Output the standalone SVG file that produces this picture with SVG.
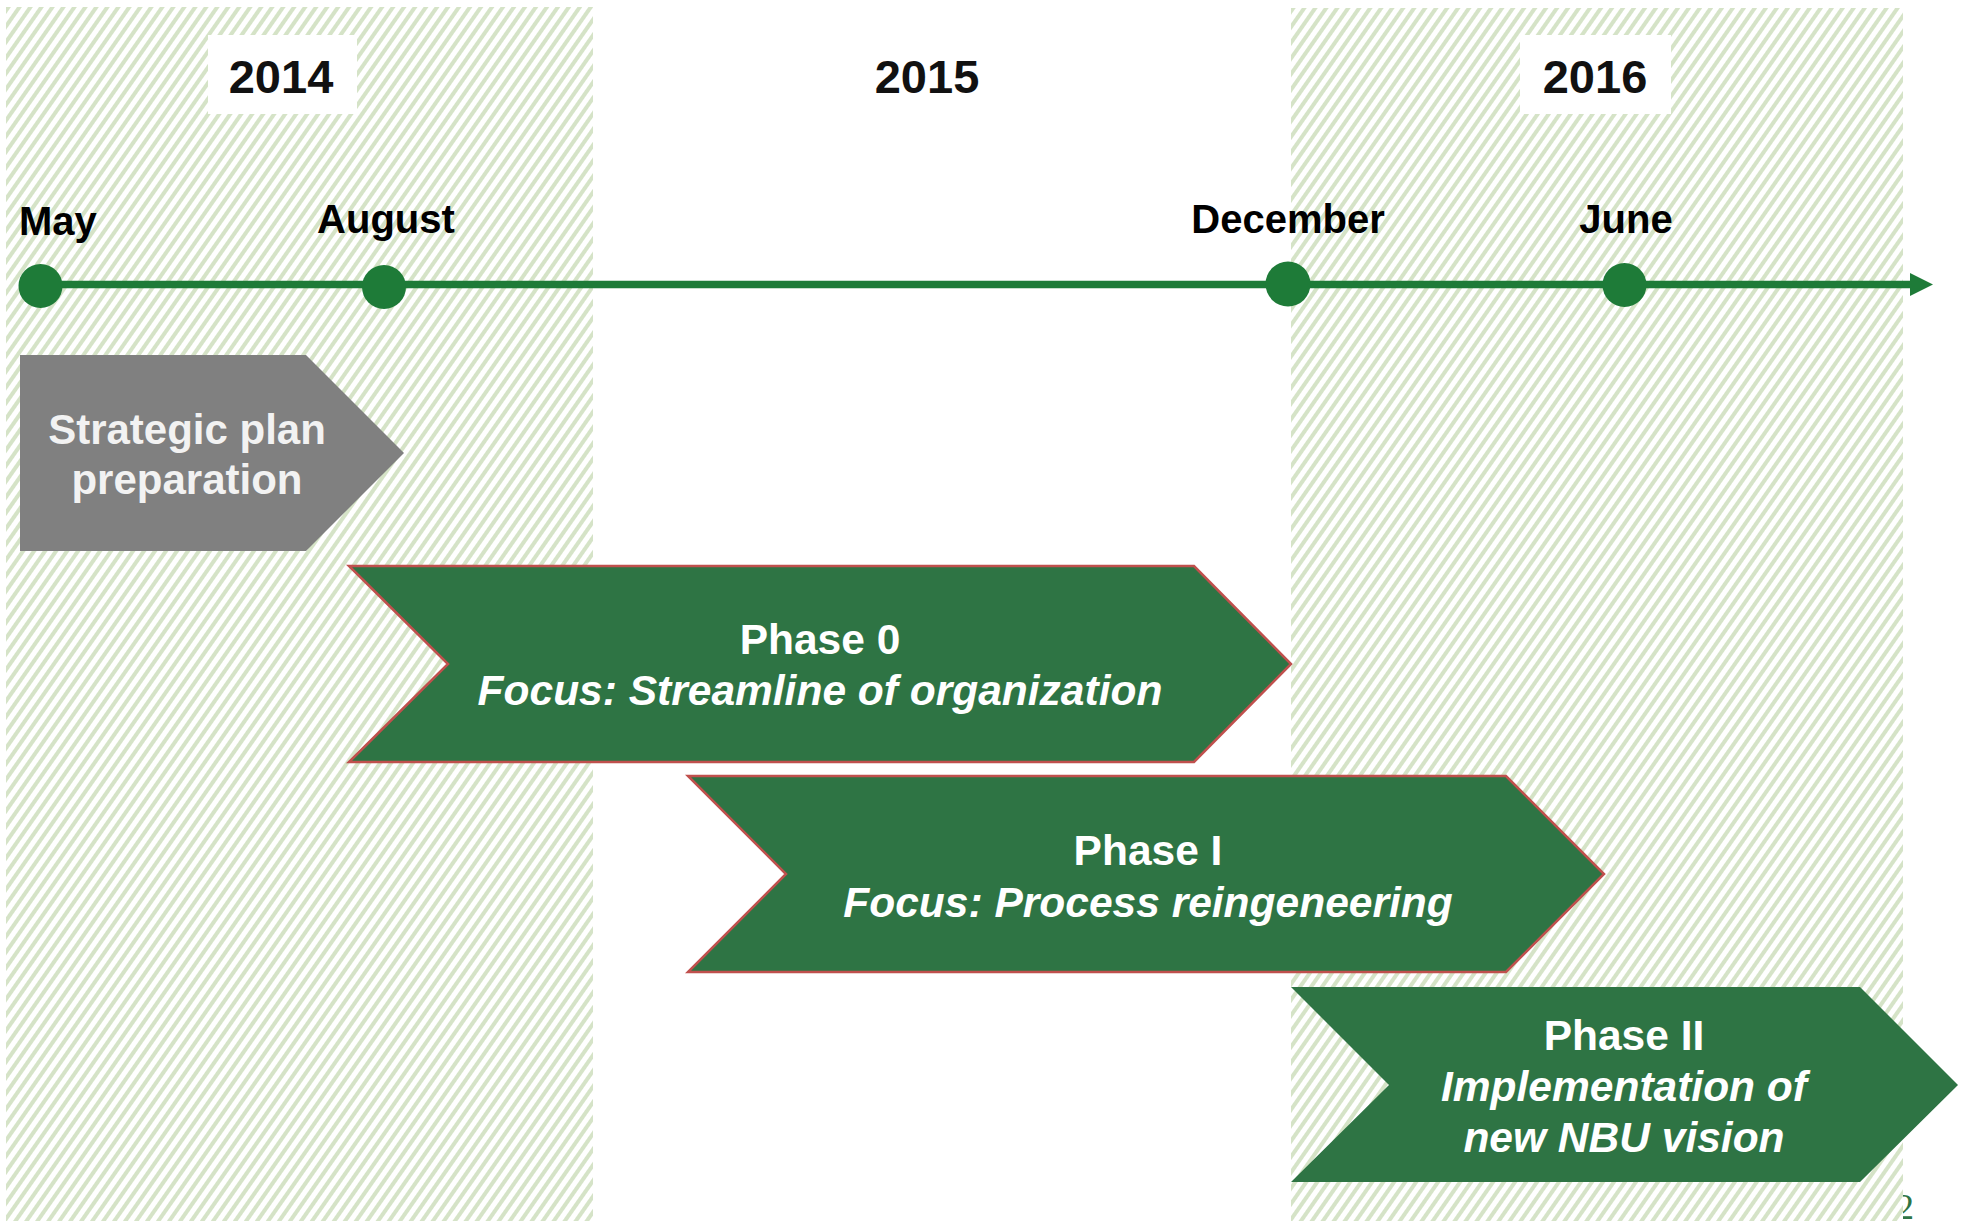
<svg xmlns="http://www.w3.org/2000/svg" width="1967" height="1221" viewBox="0 0 1967 1221">
  <defs>
    <pattern id="hatch" width="9" height="9" patternUnits="userSpaceOnUse" patternTransform="rotate(35)">
      <rect x="0" y="0" width="4" height="9" fill="#d5e3c7"/>
    </pattern>
    <marker id="arrow" markerUnits="userSpaceOnUse" markerWidth="24" markerHeight="24" refX="0" refY="11.5" orient="auto">
      <path d="M0,0 L23,11.5 L0,23 Z" fill="#1e7b38"/>
    </marker>
    <style>
      .band { fill: url(#hatch); }
      .bandbg { fill: #ffffff; }
      .yearbox { fill: #ffffff; }
      .year { font-family: "Liberation Sans", Arial, sans-serif; font-weight: bold; font-size: 47px; fill: #111111; text-anchor: middle; }
      .month { font-family: "Liberation Sans", Arial, sans-serif; font-weight: bold; font-size: 40px; fill: #000000; }
      .dot { fill: #1e7b38; }
      .timeline { stroke: #1e7b38; stroke-width: 7.5; fill: none; }
      .chev { fill: #2e7444; stroke: #c0504d; stroke-width: 2.5; }
      .chev2 { fill: #2e7444; }
      .gray { fill: #808080; }
      .lbl { font-family: "Liberation Sans", Arial, sans-serif; font-weight: bold; font-size: 42.5px; fill: #ffffff; text-anchor: middle; }
      .lblg { font-family: "Liberation Sans", Arial, sans-serif; font-weight: bold; font-size: 42px; fill: #f2f2f2; text-anchor: middle; }
      .it { font-style: italic; }
      .pg { font-family: "Liberation Serif", "Times New Roman", serif; font-size: 36px; fill: #2e7444; }
    </style>
  </defs>

  <rect x="0" y="0" width="1967" height="1221" fill="#ffffff"/>

  <text class="pg" x="1896" y="1219">2</text>

  <g id="bands">
    <rect class="bandbg" x="6" y="7" width="587" height="1214"/>
    <rect class="band" x="6" y="7" width="587" height="1214"/>
    <rect class="bandbg" x="1291" y="8" width="612" height="1213"/>
    <rect class="band" x="1291" y="8" width="612" height="1213"/>
  </g>

  <g id="years">
    <rect class="yearbox" x="208" y="35" width="149" height="79"/>
    <text class="year" x="281" y="93">2014</text>
    <text class="year" x="927" y="93">2015</text>
    <rect class="yearbox" x="1520" y="35" width="151" height="79"/>
    <text class="year" x="1595" y="93">2016</text>
  </g>

  <g id="months">
    <text class="month" x="19" y="235">May</text>
    <text class="month" x="386" y="233" text-anchor="middle">August</text>
    <text class="month" x="1288" y="233" text-anchor="middle">December</text>
    <text class="month" x="1626" y="233" text-anchor="middle">June</text>
  </g>

  <g id="connectors">
    <line class="timeline" x1="40" y1="284.5" x2="1910" y2="284.5" marker-end="url(#arrow)"/>
  </g>

  <g id="milestone-may"><circle class="dot" cx="40.5" cy="286" r="22"/></g>
  <g id="milestone-august"><circle class="dot" cx="384" cy="287" r="22"/></g>
  <g id="milestone-december"><circle class="dot" cx="1288" cy="284" r="22.5"/></g>
  <g id="milestone-june"><circle class="dot" cx="1624.5" cy="285" r="22"/></g>

  <g id="strategic-plan">
    <polygon class="gray" points="20,355 306,355 404,453 306,551 20,551"/>
    <text class="lblg" x="187" y="444">Strategic plan</text>
    <text class="lblg" x="187" y="494">preparation</text>
  </g>

  <g id="phase-0">
    <polygon class="chev" points="349,566 1194,566 1291,664 1194,762 349,762 448,664"/>
    <text class="lbl" x="820" y="654">Phase 0</text>
    <text class="lbl it" x="820" y="705">Focus: Streamline of organization</text>
  </g>

  <g id="phase-1">
    <polygon class="chev" points="688,776 1506,776 1604,874 1506,972 688,972 786,874"/>
    <text class="lbl" x="1148" y="865">Phase I</text>
    <text class="lbl it" x="1148" y="917">Focus: Process reingeneering</text>
  </g>

  <g id="phase-2">
    <polygon class="chev2" points="1291,987 1860,987 1958,1085 1860,1182 1291,1182 1389,1085"/>
    <text class="lbl" x="1624" y="1050">Phase II</text>
    <text class="lbl it" x="1624" y="1101">Implementation of</text>
    <text class="lbl it" x="1624" y="1152">new NBU vision</text>
  </g>
</svg>
